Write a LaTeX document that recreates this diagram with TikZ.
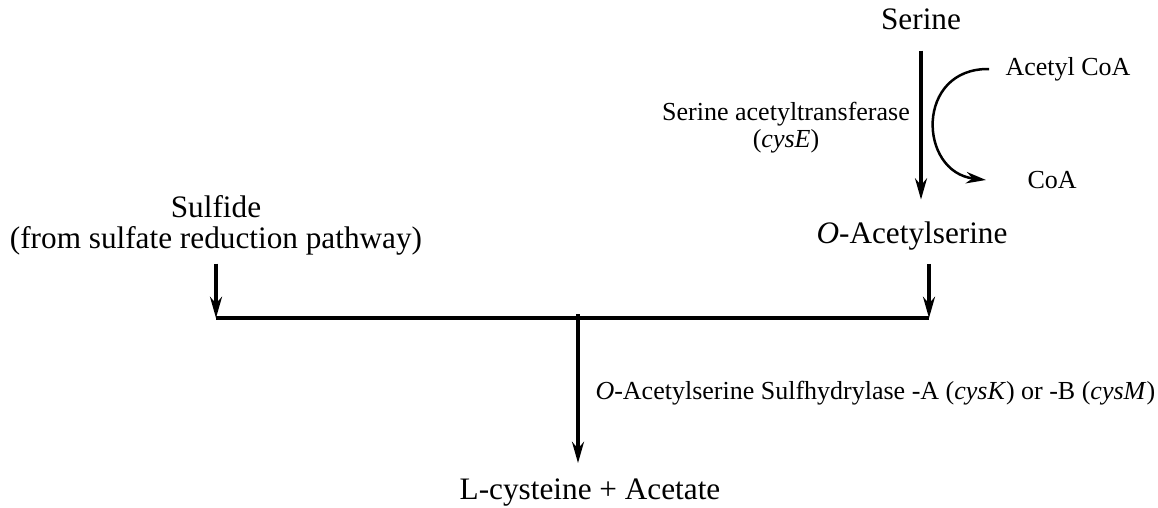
\documentclass[tikz,border=0pt]{standalone}
\usepackage{fontspec}
\setmainfont{Liberation Serif}
\usetikzlibrary{arrows.meta}

\begin{document}
\begin{tikzpicture}[x=0.4pt,y=-0.4pt,
  every node/.style={font=\fontsize{12.5}{12.4}\selectfont,inner sep=0pt},
  enz/.style={font=\fontsize{10.4}{10.8}\selectfont,align=center},
  rxn/.style={-{Stealth[length=8.5pt,width=4.8pt]},line width=1.3pt},
  side/.style={-{Stealth[length=8pt,width=4.6pt]},line width=1pt}]
\useasboundingbox (0,0) rectangle (1158,507);
% compounds
\node (serine) at (921,19.5) {Serine};
\node (oas) at (912,236) {\textit{O}-Acetylserine};
\node[align=center] (sulfide) at (216,225) {Sulfide\\(from sulfate reduction pathway)};
\node (cys) at (590,493) {L-cysteine + Acetate};
% enzymes and cofactors
\node[enz] (sat) at (786,128) {Serine acetyltransferase\\(\textit{cysE})};
\node[enz,anchor=west] (oass) at (595,393) {\textit{O}-Acetylserine Sulfhydrylase -A (\textit{cysK}) or -B (\textit{cysM})};
\node[enz,anchor=west] (accoa) at (1005,69) {Acetyl CoA};
\node[enz,anchor=west] (coa) at (1027,180) {CoA};
% junction
\coordinate (jl) at (216,318);
\coordinate (jr) at (929,318);
\coordinate (jm) at (578,314);

\draw[rxn,shorten <=8pt,shorten >=8.7pt] (serine) -- (serine |- oas.north);
\draw[side] ([xshift=-6.4pt]accoa.west) .. controls (915,68) and (918,172) .. ([xshift=-16.4pt]coa.west);
\draw[rxn,shorten <=3.3pt] (sulfide.south -| jl) -- (jl);
\draw[rxn,shorten <=5.3pt] (oas.south -| jr) -- (jr);
\draw[line width=1.3pt] (jl) -- (jr);
\draw[rxn,shorten >=6.3pt] (jm) -- (jm |- cys.north);
\end{tikzpicture}
\end{document}
